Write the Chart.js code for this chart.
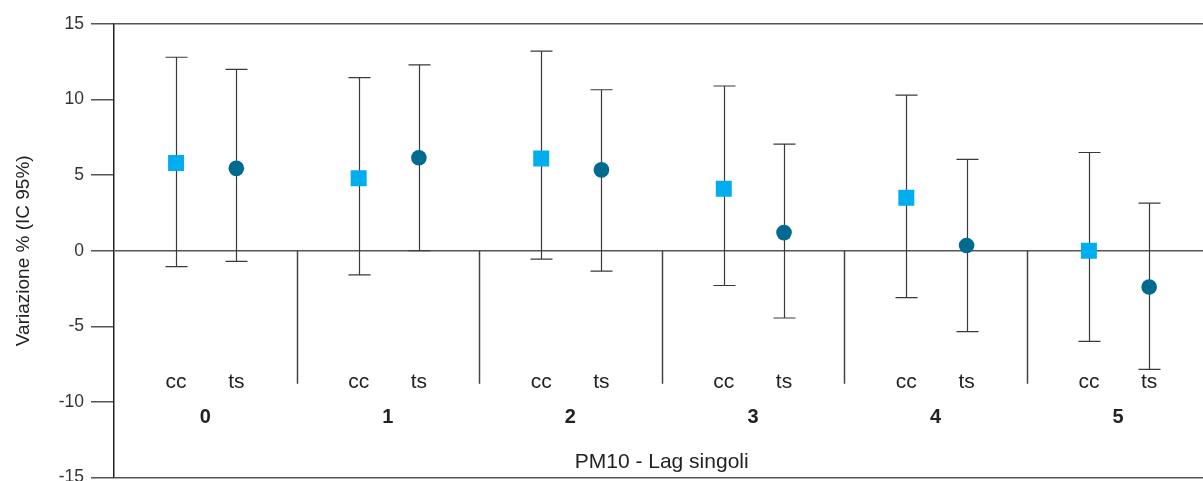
<!DOCTYPE html>
<html>
<head>
<meta charset="utf-8">
<script src="https://cdn.jsdelivr.net/npm/chart.js@4.4.1/dist/chart.umd.min.js"></script>
<style>
  html, body { margin: 0; padding: 0; background: #fff; overflow: hidden; height: 481px; }
  #wrap { position: relative; width: 1203px; height: 495px; }
  canvas { display: block; }
</style>
</head>
<body>
<div id="wrap"><canvas id="grafico"></canvas></div>
<script>
// dati (variazione % e IC 95%)
const groups = ['0', '1', '2', '3', '4', '5'];
const subLabels = ['cc', 'ts'];
const ccVal  = [5.8, 4.8, 6.1, 4.1, 3.5, 0.0];
const ccLow  = [-1.05, -1.6, -0.55, -2.3, -3.1, -6.0];
const ccHigh = [12.8, 11.45, 13.2, 10.9, 10.3, 6.5];
const tsVal  = [5.45, 6.15, 5.35, 1.2, 0.35, -2.4];
const tsLow  = [-0.7, 0.0, -1.35, -4.45, -5.35, -7.85];
const tsHigh = [12.0, 12.3, 10.65, 7.05, 6.05, 3.15];
const yTicks = [-15, -10, -5, 0, 5, 10, 15];

const CC_OFF = 0.34, TS_OFF = 0.67;
const FONT = '"Liberation Sans", Arial, Helvetica, sans-serif';

const ccData = groups.map((g, i) => ({ x: i + CC_OFF, y: ccVal[i], lo: ccLow[i], hi: ccHigh[i] }));
const tsData = groups.map((g, i) => ({ x: i + TS_OFF, y: tsVal[i], lo: tsLow[i], hi: tsHigh[i] }));

// barre d'errore, separatori ed etichette
const extra = {
  id: 'extra',
  beforeDatasetsDraw(chart) {
    const { ctx, scales: { x, y } } = chart;
    ctx.save();
    ctx.strokeStyle = '#3a3a3a';
    ctx.lineWidth = 1.2;
    const cap = 11;
    chart.data.datasets.forEach(ds => {
      ds.data.forEach(p => {
        const px = Math.round(x.getPixelForValue(p.x)) + 0.5;
        const yl = y.getPixelForValue(p.lo), yh = y.getPixelForValue(p.hi);
        ctx.beginPath();
        ctx.moveTo(px, yl); ctx.lineTo(px, yh);
        ctx.moveTo(px - cap, yl); ctx.lineTo(px + cap, yl);
        ctx.moveTo(px - cap, yh); ctx.lineTo(px + cap, yh);
        ctx.stroke();
      });
    });
    // separatori tra i lag
    ctx.strokeStyle = '#444';
    ctx.lineWidth = 1.5;
    for (let i = 1; i < groups.length; i++) {
      const px = Math.round(x.getPixelForValue(i)) + 0.5;
      ctx.beginPath();
      ctx.moveTo(px, y.getPixelForValue(0));
      ctx.lineTo(px, y.getPixelForValue(-8.8));
      ctx.stroke();
    }
    // etichette
    ctx.fillStyle = '#222';
    ctx.textAlign = 'center';
    ctx.textBaseline = 'middle';
    groups.forEach((g, i) => {
      ctx.font = '21px ' + FONT;
      ctx.fillText(subLabels[0], x.getPixelForValue(i + CC_OFF), y.getPixelForValue(-8.7));
      ctx.fillText(subLabels[1], x.getPixelForValue(i + TS_OFF), y.getPixelForValue(-8.7));
      ctx.font = 'bold 20px ' + FONT;
      ctx.fillText(g, x.getPixelForValue(i + 0.5), y.getPixelForValue(-11.05));
    });
    ctx.font = '21px ' + FONT;
    ctx.fillText('PM10 - Lag singoli', x.getPixelForValue(3), y.getPixelForValue(-14.0));
    ctx.restore();
  }
};

new Chart(document.getElementById('grafico'), {
  type: 'scatter',
  data: {
    datasets: [
      { label: 'cc', data: ccData, pointStyle: 'rect', pointRadius: 11.3, pointHoverRadius: 11.3,
        backgroundColor: '#00AEEF', borderColor: '#00AEEF', borderWidth: 0 },
      { label: 'ts', data: tsData, pointStyle: 'circle', pointRadius: 7.8, pointHoverRadius: 7.8,
        backgroundColor: '#006A91', borderColor: '#006A91', borderWidth: 0 }
    ]
  },
  options: {
    responsive: true,
    maintainAspectRatio: false,
    animation: false,
    layout: { autoPadding: false, padding: { top: 24, right: 0, bottom: 0, left: 0 } },
    plugins: { legend: { display: false }, tooltip: { enabled: false } },
    scales: {
      x: {
        type: 'linear', min: 0, max: 5.965, display: false
      },
      y: {
        min: -15, max: 15,
        afterBuildTicks: s => { s.ticks = yTicks.map(v => ({ value: v })); },
        afterFit: s => { s.width = 114; },
        border: { display: true, color: '#222', width: 1.5 },
        grid: {
          color: c => [15, 0, -15].includes(c.tick.value) ? '#555' : 'rgba(0,0,0,0)',
          tickColor: '#555',
          tickLength: 23,
          lineWidth: 1.5
        },
        ticks: { color: '#333', padding: 7, font: { family: FONT, size: 17.5 } },
        title: { display: true, text: 'Variazione % (IC 95%)', color: '#222',
                 padding: { top: 12, bottom: 0 }, font: { family: FONT, size: 19 } }
      }
    }
  },
  plugins: [extra]
});
</script>
</body>
</html>
